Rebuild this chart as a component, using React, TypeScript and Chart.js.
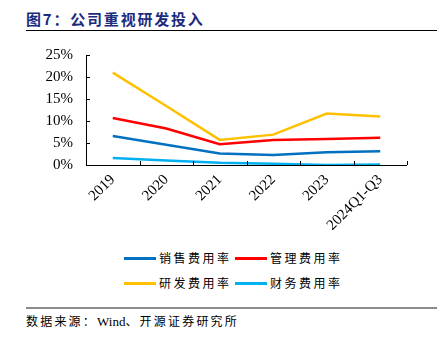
import React, { useEffect, useRef } from "react";
import { Chart, registerables } from "chart.js";

Chart.register(...registerables);

const categories = ["2019", "2020", "2021", "2022", "2023", "2024Q1-Q3"];
const salesRate = [6.6, 4.6, 2.6, 2.3, 2.9, 3.1];
const adminRate = [10.7, 8.3, 4.7, 5.7, 5.9, 6.2];
const rdRate = [21.0, 13.4, 5.7, 6.9, 11.7, 11.0];
const financeRate = [1.6, 1.0, 0.5, 0.3, 0.0, 0.1];
const seriesNames = ["销售费用率", "管理费用率", "研发费用率", "财务费用率"];
const seriesColors = ["#0070C0", "#FF0000", "#FFC000", "#00B0F0"];

const serif = "'Liberation Serif', 'Times New Roman', 'Noto Sans CJK SC', serif";

const axisPlugin = {
  id: "axisPlugin",
  afterDatasetsDraw(chart: any) {
    const ctx = chart.ctx;
    const { left, right, top, bottom } = chart.chartArea;
    const x = chart.scales.x;
    const y = chart.scales.y;
    ctx.save();
    ctx.strokeStyle = "#000";
    ctx.lineWidth = 1;
    ctx.beginPath();
    ctx.moveTo(Math.round(left) + 0.5, top);
    ctx.lineTo(Math.round(left) + 0.5, Math.round(bottom) + 0.5);
    ctx.lineTo(right, Math.round(bottom) + 0.5);
    y.ticks.forEach((_: any, i: number) => {
      const py = Math.round(y.getPixelForTick(i)) + 0.5;
      ctx.moveTo(Math.round(left), py);
      ctx.lineTo(Math.round(left) + 4, py);
    });
    const n = categories.length;
    for (let i = 0; i <= n; i++) {
      const px = Math.round(x.getPixelForValue(i - 0.5)) + 0.5;
      ctx.moveTo(px, Math.round(bottom));
      ctx.lineTo(px, Math.round(bottom) - 4);
    }
    ctx.stroke();
    ctx.restore();
  },
};

export default function App() {
  const ref = useRef<HTMLCanvasElement | null>(null);
  useEffect(() => {
    document.body.style.margin = "0";
    const data = [salesRate, adminRate, rdRate, financeRate];
    const chart = new Chart(ref.current as HTMLCanvasElement, {
      type: "line",
      data: {
        labels: categories,
        datasets: seriesNames.map((name, i) => ({
          label: name,
          data: data[i],
          borderColor: seriesColors[i],
          backgroundColor: seriesColors[i],
          borderWidth: 2.5,
          pointRadius: 0,
          tension: 0,
        })),
      },
      options: {
        animation: false,
        responsive: false,
        maintainAspectRatio: false,
        layout: { padding: { left: 0, top: 55, right: 41, bottom: 0 } },
        plugins: { legend: { display: false }, tooltip: { enabled: false } },
        scales: {
          x: {
            offset: true,
            grid: { display: false, drawTicks: false },
            border: { display: false },
            ticks: {
              color: "#000",
              font: { family: serif, size: 15 },
              minRotation: 45,
              maxRotation: 45,
              padding: 6,
              autoSkip: false,
            },
            afterFit(scale: any) {
              scale.height = 75;
            },
          },
          y: {
            min: 0,
            max: 25,
            grid: { display: false, drawTicks: false },
            border: { display: false },
            ticks: {
              stepSize: 5,
              color: "#000",
              font: { family: serif, size: 15 },
              padding: 13,
              callback: (v: any) => v + "%",
            },
            afterFit(scale: any) {
              scale.width = 86;
            },
          },
        },
      },
      plugins: [axisPlugin],
    });
    return () => chart.destroy();
  }, []);

  const legendItem = (i: number, left: number, top: number) => (
    <div
      key={i}
      style={{ position: "absolute", left, top, display: "flex", alignItems: "center", height: 16 }}
    >
      <div style={{ width: 32, height: 3, background: seriesColors[i], marginRight: 3 }} />
      <span
        style={{
          fontFamily: "'Noto Sans CJK SC', sans-serif",
          fontSize: 12,
          letterSpacing: 2.5,
          color: "#000",
          lineHeight: "16px",
        }}
      >
        {seriesNames[i]}
      </span>
    </div>
  );

  return (
    <div style={{ position: "relative", width: 448, height: 341, background: "#fff", overflow: "hidden" }}>
      <div
        style={{
          position: "absolute",
          left: 26,
          top: 9,
          fontFamily: "'Noto Sans CJK SC', sans-serif",
          fontWeight: 700,
          fontSize: 15,
          letterSpacing: 1.8,
          color: "#1B2C7E",
          lineHeight: "20px",
          whiteSpace: "nowrap",
        }}
      >
        图7：公司重视研发投入
      </div>
      <div style={{ position: "absolute", left: 26, top: 30, width: 411, height: 1, background: "#000" }} />
      <canvas ref={ref} width={448} height={240} style={{ position: "absolute", left: 0, top: 0 }} />
      {legendItem(0, 124, 250)}
      {legendItem(1, 235, 250)}
      {legendItem(2, 124, 275)}
      {legendItem(3, 235, 275)}
      <div style={{ position: "absolute", left: 26, top: 307, width: 411, height: 2, background: "#8c8c8c" }} />
      <div
        style={{
          position: "absolute",
          left: 26,
          top: 313,
          fontFamily: "'Liberation Serif', 'Noto Sans CJK SC', serif",
          fontSize: 12,
          color: "#000",
          lineHeight: "18px",
          whiteSpace: "nowrap",
        }}
      >
        <span style={{ letterSpacing: 2.2 }}>数据来源：</span>
        <span style={{ fontSize: 13 }}>Wind</span>
        <span style={{ letterSpacing: 2.2 }}>、开源证券研究所</span>
      </div>
    </div>
  );
}
